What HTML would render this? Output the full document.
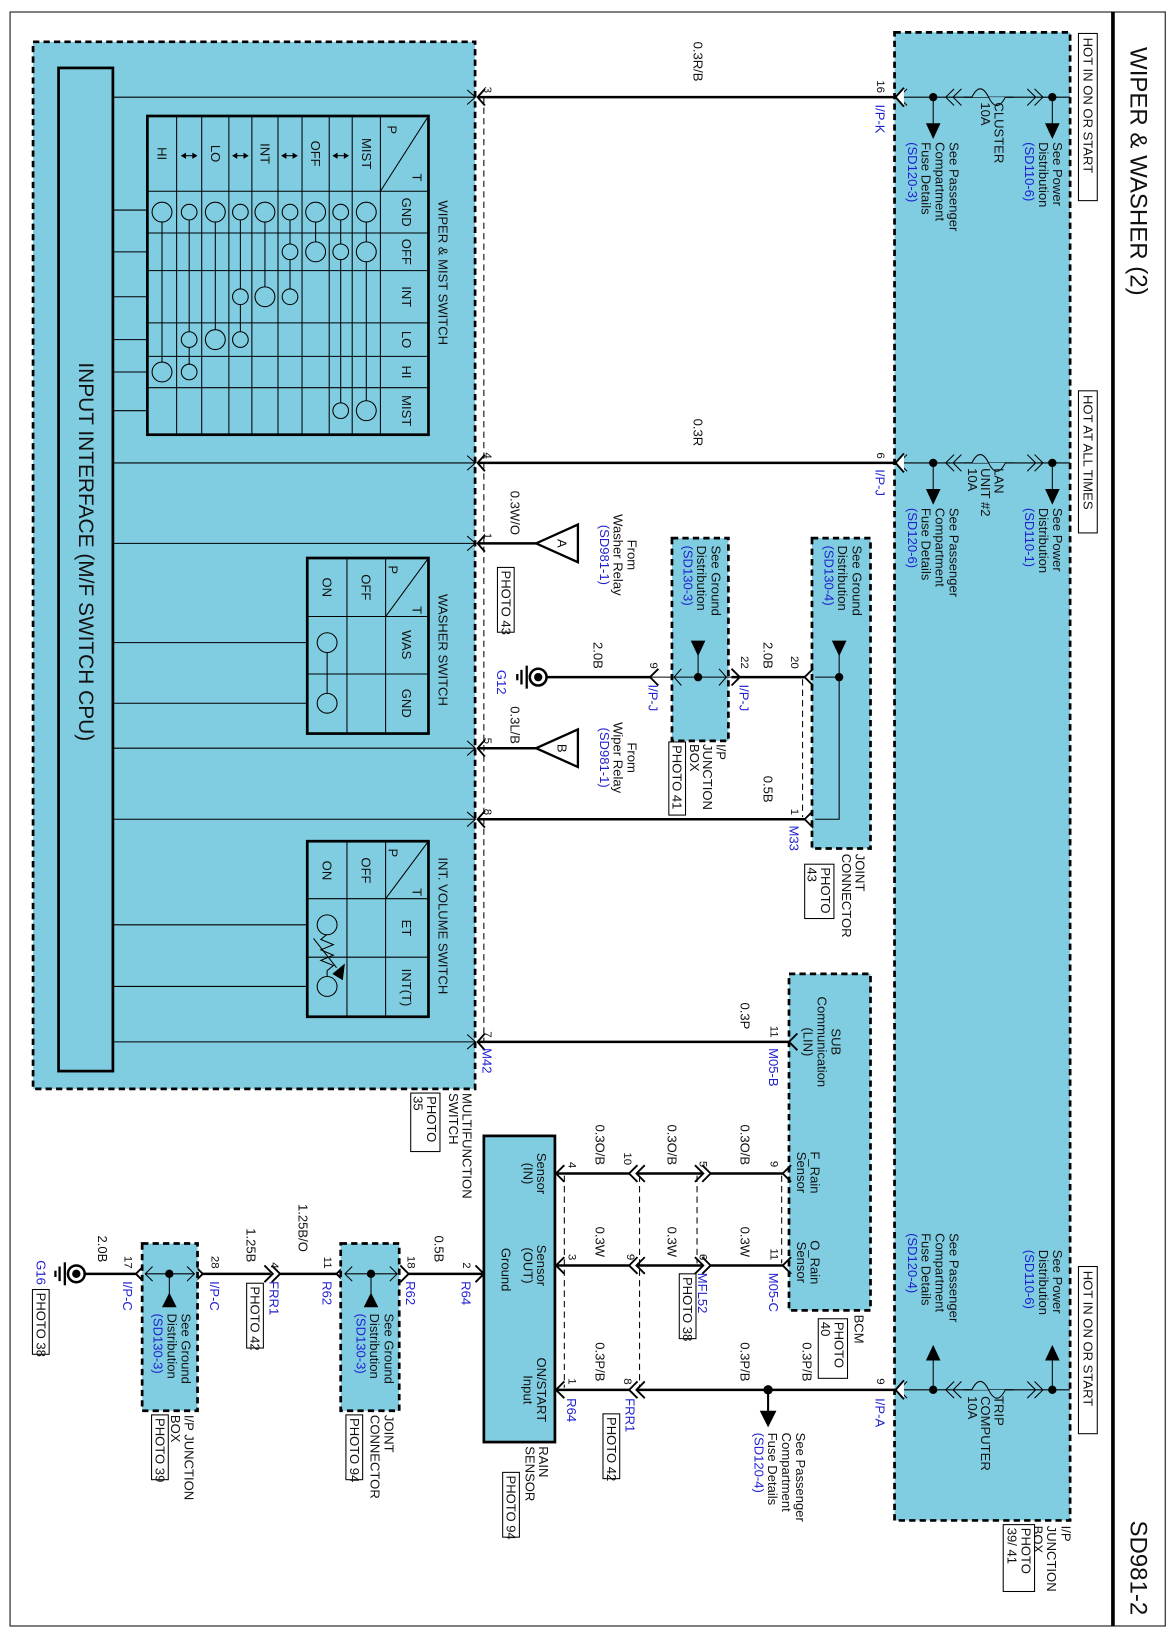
<!DOCTYPE html>
<html><head><meta charset="utf-8"><style>
html,body{margin:0;padding:0;background:#fff}
svg{display:block}
text{font-family:"Liberation Sans",Arial,sans-serif;font-size:12.5px;dominant-baseline:central;fill:#111}
.b{fill:#1f1fd0}
.s{font-size:11px}
.w{stroke:#000;stroke-width:2.4;fill:none}
.l{stroke:#000;stroke-width:1;fill:none}
.g{stroke:#000;stroke-width:1;fill:none}
.box{fill:#80cde2;stroke:#000;stroke-width:2.6;stroke-dasharray:6 4}
.d{stroke:#000;stroke-width:1;stroke-dasharray:6 4;fill:none}
.tb{fill:none;stroke:#000;stroke-width:2.6}
</style></head><body>
<svg width="1174" height="1638" viewBox="0 0 1123.4 1567.5" xmlns="http://www.w3.org/2000/svg">
<rect x="0" y="0" width="1124" height="1568" fill="#fff"/>
<rect x="9.6" y="11.5" width="1105.5" height="1544.5" fill="none" stroke="#333" stroke-width="1.2"/>
<line x1="1065" y1="11.5" x2="1065" y2="1556" stroke="#000" stroke-width="3.5"/>
<text transform="translate(1089,45) rotate(90)" style="font-size:23px">WIPER &amp; WASHER (2)</text>
<text transform="translate(1089,1455) rotate(90)" style="font-size:23px">SD981-2</text>

<!-- Right I/P junction box -->
<rect class="box" x="856" y="31" width="168" height="1424"/>
<rect x="1032" y="32" width="18" height="160" fill="#fff" stroke="#000"/>
<text transform="translate(1041,36) rotate(90)">HOT IN ON OR START</text>
<rect x="1032" y="374" width="18" height="136" fill="#fff" stroke="#000"/>
<text transform="translate(1041,378) rotate(90)">HOT AT ALL TIMES</text>
<rect x="1032" y="1212" width="18" height="160" fill="#fff" stroke="#000"/>
<text transform="translate(1041,1216) rotate(90)">HOT IN ON OR START</text>
<text transform="translate(1020,1460) rotate(90)">I/P<tspan x="0" dy="1.05em">JUNCTION</tspan><tspan x="0" dy="1.05em">BOX</tspan></text>
<rect x="960" y="1459" width="30" height="64" fill="#fff" stroke="#000"/>
<text transform="translate(982,1462) rotate(90)">PHOTO<tspan x="0" dy="1.05em">39/ 41</tspan></text>

<!-- fuse rows top -->
<g id="f1">
<line class="g" x1="862" y1="93" x2="1024" y2="93"/>
<polyline class="g" points="868,85 860,93 868,101"/>
<polyline class="g" points="913,85 905,93 913,101"/><polyline class="g" points="920,85 912,93 920,101"/>
<polyline class="g" points="983,85 991,93 983,101"/><polyline class="g" points="990,85 998,93 990,101"/>
<path d="M922 93 h8 q8 -16 16 0 q8 16 16 0 h8" fill="#80cde2" stroke="#000" stroke-width="1"/>
<circle cx="893" cy="93" r="4"/><circle cx="1007" cy="93" r="4"/>
<line class="g" x1="893" y1="93" x2="893" y2="120"/><polygon points="886,118 900,118 893,133"/>
<line class="g" x1="1007" y1="93" x2="1007" y2="120"/><polygon points="1000,118 1014,118 1007,133"/>
</g>
<text transform="translate(956,98) rotate(90)">CLUSTER<tspan x="0" dy="1.0em">10A</tspan></text>
<text transform="translate(1012,136) rotate(90)">See Power<tspan x="0" dy="1.05em">Distribution</tspan><tspan x="0" dy="1.05em" class="b">(SD110-6)</tspan></text>
<text transform="translate(913,136) rotate(90)">See Passenger<tspan x="0" dy="1.05em">Compartment</tspan><tspan x="0" dy="1.05em">Fuse Details</tspan><tspan x="0" dy="1.05em" class="b">(SD120-3)</tspan></text>

<use href="#f1" y="350"/>
<text transform="translate(956,448) rotate(90)">LAN<tspan x="0" dy="1.0em">UNIT #2</tspan><tspan x="0" dy="1.0em">10A</tspan></text>
<text transform="translate(1012,486) rotate(90)">See Power<tspan x="0" dy="1.05em">Distribution</tspan><tspan x="0" dy="1.05em" class="b">(SD110-1)</tspan></text>
<text transform="translate(913,486) rotate(90)">See Passenger<tspan x="0" dy="1.05em">Compartment</tspan><tspan x="0" dy="1.05em">Fuse Details</tspan><tspan x="0" dy="1.05em" class="b">(SD120-6)</tspan></text>

<!-- bottom fuse row -->
<g>
<line class="g" x1="862" y1="1330" x2="1024" y2="1330"/>
<polyline class="g" points="868,1322 860,1330 868,1338"/>
<polyline class="g" points="913,1322 905,1330 913,1338"/><polyline class="g" points="920,1322 912,1330 920,1338"/>
<polyline class="g" points="983,1322 991,1330 983,1338"/><polyline class="g" points="990,1322 998,1330 990,1338"/>
<path d="M922 1330 h8 q8 -16 16 0 q8 16 16 0 h8" fill="#80cde2" stroke="#000" stroke-width="1"/>
<circle cx="893" cy="1330" r="4"/><circle cx="1007" cy="1330" r="4"/>
<line class="g" x1="893" y1="1330" x2="893" y2="1300"/><polygon points="886,1302 900,1302 893,1287"/>
<line class="g" x1="1007" y1="1330" x2="1007" y2="1300"/><polygon points="1000,1302 1014,1302 1007,1287"/>
</g>
<text transform="translate(956,1336) rotate(90)">TRIP<tspan x="0" dy="1.0em">COMPUTER</tspan><tspan x="0" dy="1.0em">10A</tspan></text>
<text transform="translate(1012,1196) rotate(90)">See Power<tspan x="0" dy="1.05em">Distribution</tspan><tspan x="0" dy="1.05em" class="b">(SD110-6)</tspan></text>
<text transform="translate(913,1180) rotate(90)">See Passenger<tspan x="0" dy="1.05em">Compartment</tspan><tspan x="0" dy="1.05em">Fuse Details</tspan><tspan x="0" dy="1.05em" class="b">(SD120-4)</tspan></text>

<!-- Left multifunction switch box -->
<rect class="box" x="31.6" y="40" width="423" height="1002"/>
<rect class="tb" x="56" y="65" width="52" height="960"/>
<text transform="translate(82,528) rotate(90)" text-anchor="middle" style="font-size:20px">INPUT INTERFACE (M/F SWITCH CPU)</text>
<g class="l">
<line x1="108" y1="93" x2="455" y2="93"/><line x1="108" y1="443" x2="455" y2="443"/>
<line x1="108" y1="520" x2="455" y2="520"/><line x1="108" y1="716" x2="455" y2="716"/>
<line x1="108" y1="784" x2="455" y2="784"/><line x1="108" y1="997" x2="455" y2="997"/>
<line x1="108" y1="201" x2="141" y2="201"/><line x1="108" y1="241" x2="141" y2="241"/>
<line x1="108" y1="284" x2="141" y2="284"/><line x1="108" y1="325" x2="141" y2="325"/>
<line x1="108" y1="356" x2="141" y2="356"/><line x1="108" y1="393" x2="141" y2="393"/>
<line x1="108" y1="615" x2="294" y2="615"/><line x1="108" y1="673" x2="294" y2="673"/>
<line x1="108" y1="885" x2="294" y2="885"/><line x1="108" y1="944" x2="294" y2="944"/>
</g>
<!-- wiper table -->
<g class="l">
<line x1="169" y1="111" x2="169" y2="416"/><line x1="193" y1="111" x2="193" y2="416"/>
<line x1="219" y1="111" x2="219" y2="416"/><line x1="241" y1="111" x2="241" y2="416"/>
<line x1="266" y1="111" x2="266" y2="416"/><line x1="289" y1="111" x2="289" y2="416"/>
<line x1="315" y1="111" x2="315" y2="416"/><line x1="337" y1="111" x2="337" y2="416"/>
<line x1="364" y1="111" x2="364" y2="416"/>
<line x1="141" y1="183" x2="410" y2="183"/><line x1="141" y1="223" x2="410" y2="223"/>
<line x1="141" y1="259" x2="410" y2="259"/><line x1="141" y1="309" x2="410" y2="309"/>
<line x1="141" y1="341" x2="410" y2="341"/><line x1="141" y1="371" x2="410" y2="371"/>
<line x1="410" y1="111" x2="364" y2="183"/>
<line x1="155" y1="203" x2="155" y2="356"/><line x1="181" y1="203" x2="181" y2="356"/>
<line x1="206" y1="203" x2="206" y2="325"/><line x1="230" y1="203" x2="230" y2="325"/>
<line x1="253.5" y1="203" x2="253.5" y2="284"/><line x1="277.5" y1="203" x2="277.5" y2="284"/>
<line x1="302" y1="203" x2="302" y2="241"/><line x1="326" y1="203" x2="326" y2="393"/>
<line x1="350.5" y1="203" x2="350.5" y2="393"/>
</g>
<rect class="tb" x="141" y="111" width="269" height="305"/>
<g fill="#80cde2" stroke="#000" stroke-width="1">
<circle cx="155" cy="203" r="9.5"/><circle cx="155" cy="356" r="9.5"/>
<circle cx="181" cy="203" r="7.5"/><circle cx="181" cy="325" r="7.5"/><circle cx="181" cy="356" r="7.5"/>
<circle cx="206" cy="203" r="9.5"/><circle cx="206" cy="325" r="9.5"/>
<circle cx="230" cy="203" r="7.5"/><circle cx="230" cy="284" r="7.5"/><circle cx="230" cy="325" r="7.5"/>
<circle cx="253.5" cy="203" r="9.5"/><circle cx="253.5" cy="284" r="9.5"/>
<circle cx="277.5" cy="203" r="7.5"/><circle cx="277.5" cy="241" r="7.5"/><circle cx="277.5" cy="284" r="7.5"/>
<circle cx="302" cy="203" r="9.5"/><circle cx="302" cy="241" r="9.5"/>
<circle cx="326" cy="203" r="7.5"/><circle cx="326" cy="241" r="7.5"/><circle cx="326" cy="393" r="7.5"/>
<circle cx="350.5" cy="203" r="9.5"/><circle cx="350.5" cy="241" r="9.5"/><circle cx="350.5" cy="393" r="9.5"/>
</g>
<g class="s">
<text transform="translate(155,147) rotate(90)" text-anchor="middle">HI</text>
<text transform="translate(206,147) rotate(90)" text-anchor="middle">LO</text>
<text transform="translate(253.5,147) rotate(90)" text-anchor="middle">INT</text>
<text transform="translate(302,147) rotate(90)" text-anchor="middle">OFF</text>
<text transform="translate(350.5,147) rotate(90)" text-anchor="middle">MIST</text>
<text transform="translate(375,120) rotate(90)">P</text>
<text transform="translate(399,166) rotate(90)">T</text>
<text transform="translate(389,203) rotate(90)" text-anchor="middle">GND</text>
<text transform="translate(389,241) rotate(90)" text-anchor="middle">OFF</text>
<text transform="translate(389,284) rotate(90)" text-anchor="middle">INT</text>
<text transform="translate(389,325) rotate(90)" text-anchor="middle">LO</text>
<text transform="translate(389,356) rotate(90)" text-anchor="middle">HI</text>
<text transform="translate(389,393) rotate(90)" text-anchor="middle">MIST</text>
<text transform="translate(424,261) rotate(90)" text-anchor="middle">WIPER &amp; MIST SWITCH</text>
</g>
<g stroke="#000" stroke-width="1">
<line x1="174" y1="149" x2="188" y2="149"/><line x1="223" y1="149" x2="237" y2="149"/>
<line x1="270" y1="149" x2="284" y2="149"/><line x1="319" y1="149" x2="333" y2="149"/>
</g>
<g>
<polygon points="173,149 178,146 178,152"/><polygon points="189,149 184,146 184,152"/>
<polygon points="222,149 227,146 227,152"/><polygon points="238,149 233,146 233,152"/>
<polygon points="269,149 274,146 274,152"/><polygon points="285,149 280,146 280,152"/>
<polygon points="318,149 323,146 323,152"/><polygon points="334,149 329,146 329,152"/>
</g>
<!-- washer table -->
<g class="l">
<line x1="332" y1="534" x2="332" y2="702"/><line x1="369" y1="534" x2="369" y2="702"/>
<line x1="294" y1="590" x2="410" y2="590"/><line x1="294" y1="645" x2="410" y2="645"/>
<line x1="410" y1="534" x2="369" y2="590"/>
<line x1="313" y1="615" x2="313" y2="673"/>
</g>
<rect class="tb" x="294" y="534" width="116" height="168"/>
<circle cx="313" cy="615" r="9.5" fill="#80cde2" stroke="#000"/><circle cx="313" cy="673" r="9.5" fill="#80cde2" stroke="#000"/>
<g class="s">
<text transform="translate(350,562) rotate(90)" text-anchor="middle">OFF</text>
<text transform="translate(313,562) rotate(90)" text-anchor="middle">ON</text>
<text transform="translate(376,541) rotate(90)">P</text>
<text transform="translate(399,580) rotate(90)">T</text>
<text transform="translate(389,617) rotate(90)" text-anchor="middle">WAS</text>
<text transform="translate(389,673) rotate(90)" text-anchor="middle">GND</text>
<text transform="translate(424,622) rotate(90)" text-anchor="middle">WASHER SWITCH</text>
</g>
<!-- int volume table -->
<g class="l">
<line x1="332" y1="805" x2="332" y2="973"/><line x1="369" y1="805" x2="369" y2="973"/>
<line x1="294" y1="860" x2="410" y2="860"/><line x1="294" y1="916" x2="410" y2="916"/>
<line x1="410" y1="805" x2="369" y2="860"/>
<polyline points="313,894 307,899 319,904 307,909 319,914 307,919 319,924 313,929 313,934"/>
<line x1="300" y1="898" x2="322" y2="926"/>
</g>
<polygon points="318,932 330,922 328,938"/>
<rect class="tb" x="294" y="805" width="116" height="168"/>
<circle cx="313" cy="885" r="9.5" fill="#80cde2" stroke="#000"/><circle cx="313" cy="944" r="9.5" fill="#80cde2" stroke="#000"/>
<g class="s">
<text transform="translate(350,833) rotate(90)" text-anchor="middle">OFF</text>
<text transform="translate(313,833) rotate(90)" text-anchor="middle">ON</text>
<text transform="translate(376,812) rotate(90)">P</text>
<text transform="translate(399,850) rotate(90)">T</text>
<text transform="translate(389,888) rotate(90)" text-anchor="middle">ET</text>
<text transform="translate(389,945) rotate(90)" text-anchor="middle">INT(T)</text>
<text transform="translate(424,886) rotate(90)" text-anchor="middle">INT. VOLUME SWITCH</text>
</g>
<line class="d" x1="463" y1="93" x2="463" y2="997"/>
<g class="l">
<polyline points="447,86 455,93 447,100"/><polyline points="447,436 455,443 447,450"/>
<polyline points="447,513 455,520 447,527"/><polyline points="447,709 455,716 447,723"/>
<polyline points="447,777 455,784 447,791"/><polyline points="447,990 455,997 447,1004"/>
</g>
<text transform="translate(447,1046) rotate(90)">MULTIFUNCTION<tspan x="0" dy="1.0em">SWITCH</tspan></text>
<rect x="393" y="1046" width="28" height="56" fill="#fff" stroke="#000"/>
<text transform="translate(413,1049) rotate(90)">PHOTO<tspan x="0" dy="1.0em">35</tspan></text>

<!-- main wires -->
<g class="w">
<line x1="457" y1="93" x2="857" y2="93"/><line x1="457" y1="443" x2="857" y2="443"/>
<line x1="457" y1="520" x2="513" y2="520"/><line x1="457" y1="716" x2="513" y2="716"/>
<line x1="457" y1="784" x2="770" y2="784"/><line x1="457" y1="997" x2="755" y2="997"/>
<line x1="520" y1="648" x2="622" y2="648"/><line x1="700" y1="648" x2="770" y2="648"/>
</g>
<g stroke="#000" stroke-width="1.8" fill="#fff">
<polyline points="865,84 857,93 865,102"/><polyline points="865,434 857,443 865,452"/>
<polyline points="464,85 457,93 464,101" fill="none"/><polyline points="464,435 457,443 464,451" fill="none"/>
<polyline points="464,512 457,520 464,528" fill="none"/><polyline points="464,708 457,716 464,724" fill="none"/>
<polyline points="464,776 457,784 464,792" fill="none"/><polyline points="464,989 457,997 464,1005" fill="none"/>
</g>
<text class="s" transform="translate(466,89) rotate(90)" text-anchor="end">3</text>
<text transform="translate(668,78) rotate(90)" text-anchor="end">0.3R/B</text>
<text class="s" transform="translate(842,89) rotate(90)" text-anchor="end">16</text>
<text class="b" transform="translate(842,100) rotate(90)">I/P-K</text>
<text class="s" transform="translate(466,439) rotate(90)" text-anchor="end">4</text>
<text transform="translate(668,427) rotate(90)" text-anchor="end">0.3R</text>
<text class="s" transform="translate(842,439) rotate(90)" text-anchor="end">6</text>
<text class="b" transform="translate(842,449) rotate(90)">I/P-J</text>
<!-- A -->
<polygon points="513,520 553,502 553,538" fill="#fff" stroke="#000" stroke-width="2.2"/>
<text transform="translate(538,520) rotate(90)" text-anchor="middle">A</text>
<text class="s" transform="translate(466,516) rotate(90)" text-anchor="end">1</text>
<text transform="translate(493,512) rotate(90)" text-anchor="end">0.3W/O</text>
<text transform="translate(605,531) rotate(90)" text-anchor="middle">From<tspan x="0" dy="1.05em">Washer Relay</tspan><tspan x="0" dy="1.05em" class="b">(SD981-1)</tspan></text>
<rect x="476" y="543" width="16" height="62" fill="#fff" stroke="#000"/>
<text transform="translate(484,546) rotate(90)">PHOTO 43</text>
<!-- B -->
<polygon points="513,716 553,698 553,734" fill="#fff" stroke="#000" stroke-width="2.2"/>
<text transform="translate(538,716) rotate(90)" text-anchor="middle">B</text>
<text class="s" transform="translate(466,712) rotate(90)" text-anchor="end">5</text>
<text transform="translate(493,712) rotate(90)" text-anchor="end">0.3L/B</text>
<text transform="translate(605,725) rotate(90)" text-anchor="middle">From<tspan x="0" dy="1.05em">Wiper Relay</tspan><tspan x="0" dy="1.05em" class="b">(SD981-1)</tspan></text>
<!-- G12 -->
<circle cx="515" cy="648" r="8" fill="#fff" stroke="#000" stroke-width="2.4"/><circle cx="515" cy="648" r="4"/>
<g stroke="#000" stroke-width="2.2"><line x1="504" y1="637" x2="504" y2="659"/><line x1="499" y1="641" x2="499" y2="655"/><line x1="495" y1="645" x2="495" y2="651"/></g>
<text class="b" transform="translate(480,641) rotate(90)">G12</text>
<text transform="translate(572,640) rotate(90)" text-anchor="end">2.0B</text>
<!-- small IP junction box -->
<rect class="box" x="643" y="515" width="54" height="194"/>
<line class="g" x1="622" y1="648" x2="700" y2="648"/>
<polyline class="g" points="652,640 645,648 652,656"/><polyline class="g" points="688,640 695,648 688,656"/>
<polyline stroke="#000" stroke-width="1.8" fill="none" points="630,640 622,648 630,656"/>
<polyline stroke="#000" stroke-width="1.8" fill="none" points="700,640 708,648 700,656"/>
<circle cx="668" cy="648" r="4"/><line class="g" x1="668" y1="648" x2="668" y2="625"/><polygon points="661,613 675,613 668,628"/>
<text transform="translate(685,522) rotate(90)">See Ground<tspan x="0" dy="1.05em">Distribution</tspan><tspan x="0" dy="1.05em" class="b">(SD130-3)</tspan></text>
<text class="s" transform="translate(625,640) rotate(90)" text-anchor="end">9</text>
<text class="b" transform="translate(625,655) rotate(90)">I/P-J</text>
<text class="s" transform="translate(712,640) rotate(90)" text-anchor="end">22</text>
<text class="b" transform="translate(712,655) rotate(90)">I/P-J</text>
<text transform="translate(735,640) rotate(90)" text-anchor="end">2.0B</text>
<text class="s" transform="translate(760,640) rotate(90)" text-anchor="end">20</text>
<text transform="translate(690,712) rotate(90)">I/P<tspan x="0" dy="1.0em">JUNCTION</tspan><tspan x="0" dy="1.0em">BOX</tspan></text>
<rect x="640" y="710" width="16" height="70" fill="#fff" stroke="#000"/>
<text transform="translate(648,713) rotate(90)">PHOTO 41</text>
<!-- joint connector box -->
<rect class="box" x="777" y="515" width="56" height="297"/>
<polyline class="g" points="780,648 803,648 803,784 780,784"/>
<polyline stroke="#000" stroke-width="1.8" fill="none" points="778,640 770,648 778,656"/>
<polyline stroke="#000" stroke-width="1.8" fill="none" points="778,776 770,784 778,792"/>
<line class="d" x1="768" y1="650" x2="768" y2="782"/>
<circle cx="803" cy="648" r="4"/><polygon points="796,613 810,613 803,628"/><line class="g" x1="803" y1="625" x2="803" y2="648"/>
<text transform="translate(820,522) rotate(90)">See Ground<tspan x="0" dy="1.05em">Distribution</tspan><tspan x="0" dy="1.05em" class="b">(SD130-4)</tspan></text>
<text class="s" transform="translate(466,780) rotate(90)" text-anchor="end">8</text>
<text transform="translate(735,768) rotate(90)" text-anchor="end">0.5B</text>
<text class="s" transform="translate(760,780) rotate(90)" text-anchor="end">1</text>
<text class="b" transform="translate(760,790) rotate(90)">M33</text>
<text transform="translate(823,817) rotate(90)">JOINT<tspan x="0" dy="1.0em">CONNECTOR</tspan></text>
<rect x="770" y="827" width="28" height="52" fill="#fff" stroke="#000"/>
<text transform="translate(790,830) rotate(90)">PHOTO<tspan x="0" dy="1.0em">43</tspan></text>
<!-- BCM -->
<rect class="box" x="755" y="932" width="78" height="322"/>
<polyline stroke="#000" stroke-width="1.8" fill="none" points="763,989 755,997 763,1005"/>
<text class="s" transform="translate(466,993) rotate(90)" text-anchor="end">7</text>
<text class="b" transform="translate(466,1003) rotate(90)">M42</text>
<text transform="translate(713,985) rotate(90)" text-anchor="end">0.3P</text>
<text class="s" transform="translate(740,993) rotate(90)" text-anchor="end">11</text>
<text class="b" transform="translate(740,1003) rotate(90)">M05-B</text>
<text transform="translate(800,997) rotate(90)" text-anchor="middle">SUB<tspan x="0" dy="1.05em">Communication</tspan><tspan x="0" dy="1.05em">(LIN)</tspan></text>
<text transform="translate(780,1122) rotate(90)" text-anchor="middle">F_Rain<tspan x="0" dy="1.0em">Sensor</tspan></text>
<text transform="translate(780,1208) rotate(90)" text-anchor="middle">O_Rain<tspan x="0" dy="1.0em">Sensor</tspan></text>
<text transform="translate(822,1258) rotate(90)">BCM</text>
<rect x="783" y="1262" width="28" height="57" fill="#fff" stroke="#000"/>
<text transform="translate(803,1265) rotate(90)">PHOTO<tspan x="0" dy="1.0em">40</tspan></text>
<!-- rain sensor -->
<rect x="463" y="1087" width="68" height="293" fill="#80cde2" stroke="#000" stroke-width="2.6"/>
<text transform="translate(518,1123) rotate(90)" text-anchor="middle">Sensor<tspan x="0" dy="1.0em">(IN)</tspan></text>
<text transform="translate(518,1211) rotate(90)" text-anchor="middle">Sensor<tspan x="0" dy="1.0em">(OUT)</tspan></text>
<text transform="translate(484,1215) rotate(90)" text-anchor="middle">Ground</text>
<text transform="translate(518,1330) rotate(90)" text-anchor="middle">ON/START<tspan x="0" dy="1.0em">Input</tspan></text>
<text transform="translate(520,1384) rotate(90)">RAIN<tspan x="0" dy="1.0em">SENSOR</tspan></text>
<rect x="481" y="1409" width="16" height="62" fill="#fff" stroke="#000"/>
<text transform="translate(489,1412) rotate(90)">PHOTO 94</text>
<g class="w">
<line x1="533" y1="1123" x2="602" y2="1123"/><line x1="610" y1="1123" x2="672" y2="1123"/><line x1="680" y1="1123" x2="750" y2="1123"/>
<line x1="533" y1="1211" x2="602" y2="1211"/><line x1="610" y1="1211" x2="672" y2="1211"/><line x1="680" y1="1211" x2="750" y2="1211"/>
<line x1="533" y1="1330" x2="602" y2="1330"/><line x1="610" y1="1330" x2="857" y2="1330"/>
</g>
<g stroke="#000" stroke-width="1.8" fill="none">
<polyline points="540,1115 532,1123 540,1131"/><polyline points="540,1203 532,1211 540,1219"/><polyline points="540,1322 532,1330 540,1338"/>
<polyline points="610,1115 602,1123 610,1131"/><polyline points="617,1115 609,1123 617,1131"/>
<polyline points="610,1203 602,1211 610,1219"/><polyline points="617,1203 609,1211 617,1219"/>
<polyline points="610,1322 602,1330 610,1338"/><polyline points="617,1322 609,1330 617,1338"/>
<polyline points="665,1115 673,1123 665,1131"/><polyline points="672,1115 680,1123 672,1131"/>
<polyline points="665,1203 673,1211 665,1219"/><polyline points="672,1203 680,1211 672,1219"/>
<polyline points="757,1115 749,1123 757,1131"/><polyline points="757,1203 749,1211 757,1219"/>
<polyline points="865,1321 857,1330 865,1339" fill="#fff"/>
</g>
<line class="d" x1="540" y1="1125" x2="540" y2="1328"/>
<line class="d" x1="612" y1="1125" x2="612" y2="1328"/>
<line class="d" x1="667" y1="1125" x2="667" y2="1209"/>
<line class="d" x1="748" y1="1125" x2="748" y2="1209"/>
<text class="s" transform="translate(547,1118) rotate(90)" text-anchor="end">4</text>
<text transform="translate(574,1115) rotate(90)" text-anchor="end">0.3O/B</text>
<text class="s" transform="translate(600,1115) rotate(90)" text-anchor="end">10</text>
<text transform="translate(643,1115) rotate(90)" text-anchor="end">0.3O/B</text>
<text class="s" transform="translate(672,1117) rotate(90)" text-anchor="end">5</text>
<text transform="translate(713,1115) rotate(90)" text-anchor="end">0.3O/B</text>
<text class="s" transform="translate(740,1117) rotate(90)" text-anchor="end">9</text>
<text class="s" transform="translate(547,1206) rotate(90)" text-anchor="end">3</text>
<text transform="translate(574,1203) rotate(90)" text-anchor="end">0.3W</text>
<text class="s" transform="translate(603,1206) rotate(90)" text-anchor="end">9</text>
<text transform="translate(643,1203) rotate(90)" text-anchor="end">0.3W</text>
<text class="s" transform="translate(672,1206) rotate(90)" text-anchor="end">6</text>
<text class="b" transform="translate(672,1218) rotate(90)">MFL52</text>
<rect x="650" y="1219" width="16" height="62" fill="#fff" stroke="#000"/>
<text transform="translate(658,1222) rotate(90)">PHOTO 38</text>
<text transform="translate(713,1203) rotate(90)" text-anchor="end">0.3W</text>
<text class="s" transform="translate(740,1206) rotate(90)" text-anchor="end">11</text>
<text class="b" transform="translate(740,1218) rotate(90)">M05-C</text>
<text class="s" transform="translate(547,1325) rotate(90)" text-anchor="end">1</text>
<text class="b" transform="translate(547,1338) rotate(90)">R64</text>
<text transform="translate(574,1322) rotate(90)" text-anchor="end">0.3P/B</text>
<text class="s" transform="translate(600,1325) rotate(90)" text-anchor="end">8</text>
<text class="b" transform="translate(603,1338) rotate(90)">FRR1</text>
<rect x="577" y="1353" width="16" height="62" fill="#fff" stroke="#000"/>
<text transform="translate(585,1356) rotate(90)">PHOTO 42</text>
<text transform="translate(713,1322) rotate(90)" text-anchor="end">0.3P/B</text>
<text transform="translate(772,1322) rotate(90)" text-anchor="end">0.3P/B</text>
<circle cx="735" cy="1330" r="4.5"/><line stroke="#000" stroke-width="2" x1="735" y1="1330" x2="735" y2="1352"/><polygon points="727,1350 743,1350 735,1366"/>
<text transform="translate(766,1371) rotate(90)">See Passenger<tspan x="0" dy="1.05em">Compartment</tspan><tspan x="0" dy="1.05em">Fuse Details</tspan><tspan x="0" dy="1.05em" class="b">(SD120-4)</tspan></text>
<text class="s" transform="translate(842,1325) rotate(90)" text-anchor="end">9</text>
<text class="b" transform="translate(842,1338) rotate(90)">I/P-A</text>
<!-- ground chain -->
<g class="w">
<line x1="463" y1="1219" x2="390" y2="1219"/><line x1="322" y1="1219" x2="267" y2="1219"/>
<line x1="259" y1="1219" x2="193" y2="1219"/><line x1="130" y1="1219" x2="80" y2="1219"/>
</g>
<g stroke="#000" stroke-width="1.8" fill="none">
<polyline points="455,1211 463,1219 455,1227"/>
<polyline points="383,1211 391,1219 383,1227"/>
<polyline points="330,1211 322,1219 330,1227"/>
<polyline points="253,1211 261,1219 253,1227"/><polyline points="260,1211 268,1219 260,1227"/>
<polyline points="186,1211 194,1219 186,1227"/>
<polyline points="138,1211 130,1219 138,1227"/>
</g>
<rect class="box" x="326" y="1190" width="56" height="160"/>
<line class="g" x1="330" y1="1219" x2="380" y2="1219"/>
<polyline class="g" points="337,1212 330,1219 337,1226"/><polyline class="g" points="373,1212 380,1219 373,1226"/>
<circle cx="355" cy="1219" r="4"/><line class="g" x1="355" y1="1219" x2="355" y2="1240"/><polygon points="348,1251 362,1251 355,1237"/>
<text transform="translate(372,1257) rotate(90)">See Ground<tspan x="0" dy="1.05em">Distribution</tspan><tspan x="0" dy="1.05em" class="b">(SD130-3)</tspan></text>
<text transform="translate(372,1354) rotate(90)">JOINT<tspan x="0" dy="1.0em">CONNECTOR</tspan></text>
<rect x="331" y="1354" width="16" height="62" fill="#fff" stroke="#000"/>
<text transform="translate(339,1357) rotate(90)">PHOTO 94</text>
<rect class="box" x="136" y="1190" width="53" height="160"/>
<line class="g" x1="139" y1="1219" x2="186" y2="1219"/>
<polyline class="g" points="146,1212 139,1219 146,1226"/><polyline class="g" points="179,1212 186,1219 179,1226"/>
<circle cx="162" cy="1219" r="4"/><line class="g" x1="162" y1="1219" x2="162" y2="1240"/><polygon points="155,1251 169,1251 162,1237"/>
<text transform="translate(178,1257) rotate(90)">See Ground<tspan x="0" dy="1.05em">Distribution</tspan><tspan x="0" dy="1.05em" class="b">(SD130-3)</tspan></text>
<text transform="translate(181,1354) rotate(90)">I/P JUNCTION<tspan x="0" dy="1.0em">BOX</tspan></text>
<rect x="145" y="1354" width="16" height="62" fill="#fff" stroke="#000"/>
<text transform="translate(153,1357) rotate(90)">PHOTO 39</text>
<text class="s" transform="translate(446,1214) rotate(90)" text-anchor="end">2</text>
<text class="b" transform="translate(446,1226) rotate(90)">R64</text>
<text transform="translate(420,1208) rotate(90)" text-anchor="end">0.5B</text>
<text class="s" transform="translate(393,1214) rotate(90)" text-anchor="end">18</text>
<text class="b" transform="translate(393,1226) rotate(90)">R62</text>
<text class="s" transform="translate(313,1214) rotate(90)" text-anchor="end">11</text>
<text class="b" transform="translate(313,1226) rotate(90)">R62</text>
<text transform="translate(290,1198) rotate(90)" text-anchor="end">1.25B/O</text>
<text class="s" transform="translate(262,1214) rotate(90)" text-anchor="end">4</text>
<text class="b" transform="translate(262,1226) rotate(90)">FRR1</text>
<rect x="236" y="1228" width="16" height="62" fill="#fff" stroke="#000"/>
<text transform="translate(244,1231) rotate(90)">PHOTO 42</text>
<text transform="translate(240,1208) rotate(90)" text-anchor="end">1.25B</text>
<text class="s" transform="translate(205,1214) rotate(90)" text-anchor="end">28</text>
<text class="b" transform="translate(205,1226) rotate(90)">I/P-C</text>
<text class="s" transform="translate(122,1214) rotate(90)" text-anchor="end">17</text>
<text class="b" transform="translate(122,1226) rotate(90)">I/P-C</text>
<text transform="translate(98,1208) rotate(90)" text-anchor="end">2.0B</text>
<circle cx="73" cy="1219" r="8" fill="#fff" stroke="#000" stroke-width="2.4"/><circle cx="73" cy="1219" r="4"/>
<g stroke="#000" stroke-width="2.2"><line x1="62" y1="1208" x2="62" y2="1230"/><line x1="57" y1="1212" x2="57" y2="1226"/><line x1="53" y1="1216" x2="53" y2="1222"/></g>
<text class="b" transform="translate(39,1206) rotate(90)">G16</text>
<rect x="31" y="1234" width="16" height="62" fill="#fff" stroke="#000"/>
<text transform="translate(39,1237) rotate(90)">PHOTO 38</text>
</svg>
</body></html>
